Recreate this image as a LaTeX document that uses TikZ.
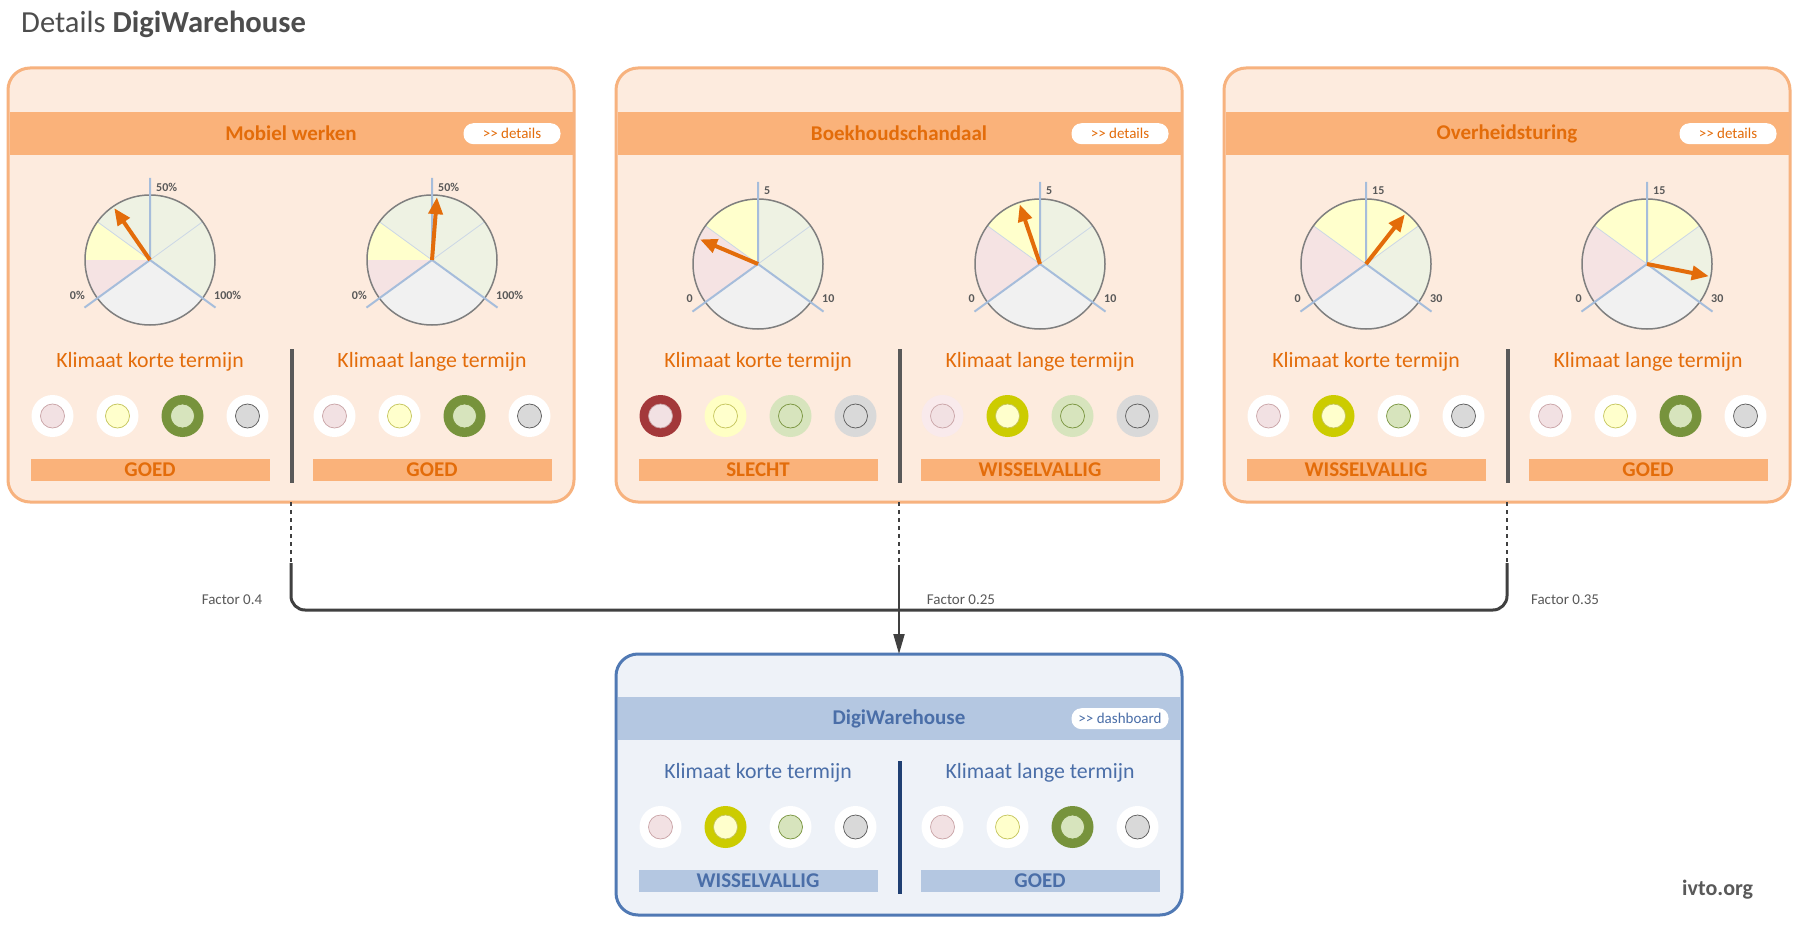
\documentclass[tikz,border=0pt]{standalone}
\usepackage{fontspec}
\setmainfont{Carlito}
\usetikzlibrary{positioning,arrows.meta}

\definecolor{titlegrey}{HTML}{4D4D4D}
\definecolor{darkgrey}{HTML}{404040}
\definecolor{midgrey}{HTML}{595959}
\definecolor{peach}{HTML}{FDEBDE}
\definecolor{peachline}{HTML}{F7B27E}
\definecolor{peachband}{HTML}{FAB27A}
\definecolor{orangetxt}{HTML}{E36C0A}
\definecolor{bluefill}{HTML}{EEF2F8}
\definecolor{blueline}{HTML}{5079B4}
\definecolor{blueband}{HTML}{B4C7E1}
\definecolor{bluetxt}{HTML}{4A6EA8}
\definecolor{bluediv}{HTML}{1F3F73}
% gauge colours
\definecolor{rimgrey}{HTML}{7F7F7F}
\definecolor{axisblue}{HTML}{A6BDDB}
\definecolor{thinblue}{HTML}{CBD7E6}
\definecolor{piepink}{HTML}{F5E3E3}
\definecolor{pieyel}{HTML}{FFFFCC}
\definecolor{piegrn}{HTML}{EEF2E3}
\definecolor{piegry}{HTML}{F1F1F1}
\definecolor{arrowor}{HTML}{E36C0A}
% lamp colours
\definecolor{redD}{HTML}{A3383A}
\definecolor{yelD}{HTML}{CCCC00}
\definecolor{grnD}{HTML}{77933C}
\definecolor{pinkI}{HTML}{F2E1E3}
\definecolor{yelI}{HTML}{FFFFCC}
\definecolor{grnI}{HTML}{D7E4BD}
\definecolor{gryI}{HTML}{D9D9D9}
\definecolor{pinkT}{HTML}{F9EAEC}
\definecolor{yelT}{HTML}{FFFFC4}
\definecolor{pinkL}{HTML}{C9A3A6}
\definecolor{yelL}{HTML}{C4C45A}

\tikzset{
  panel/.style={draw=peachline, fill=peach, line width=3pt, rounded corners=22pt,
    minimum width=566pt, minimum height=434pt, inner sep=0pt, outer sep=0pt},
  band/.style={fill=peachband, minimum width=563pt, minimum height=43pt, inner sep=0pt,
    text=orangetxt, font=\fontsize{21}{24}\selectfont\bfseries},
  pill/.style={fill=white, rounded corners=10pt, minimum width=97pt, minimum height=21pt,
    inner sep=0pt, text=orangetxt, font=\fontsize{15}{17}\selectfont},
  klim/.style={font=\fontsize{21.8}{25}\selectfont},
  verdict/.style={minimum width=239pt, minimum height=22pt, inner sep=0pt,
    font=\fontsize{21}{23}\selectfont\bfseries},
  ring/.style={circle, minimum size=42pt, inner sep=0pt},
  lamp/.style={circle, minimum size=24pt, inner sep=0pt, line width=0.7pt},
  divline/.style={midgrey, line width=3.5pt},
  rim/.style={rimgrey, line width=1.5pt},
  axis/.style={axisblue, line width=2pt},
  needle/.style={arrowor, line width=4pt, -{Triangle[length=17pt,width=14pt]}},
  ticklbl/.style={font=\fontsize{12}{14}\selectfont\bfseries, text=midgrey, inner sep=1pt},
  link/.style={darkgrey, line width=2.5pt, dash pattern=on 4pt off 4pt},
  trunk/.style={darkgrey, line width=3pt, rounded corners=14pt},
  factor/.style={font=\fontsize{15}{18}\selectfont, text=midgrey, inner sep=0pt},
}

\begin{document}
\begin{tikzpicture}[x=1pt, y=1pt]
  \useasboundingbox (0,0) rectangle (1800,-928);
  \fill[white] (0,0) rectangle (1800,-928);

  % Title
  \node[anchor=base west, inner sep=0pt, text=titlegrey, font=\fontsize{30.6}{35}\selectfont]
    (title) at (21,-33) {Details \textbf{DigiWarehouse}};

  % Connectors
  \coordinate (c1) at (291,-563);
  \coordinate (c2) at (899,-565);
  \coordinate (c3) at (1507,-563);
  \coordinate (k3) at (1507,-610);

  % Panels
  \node[panel] (p1) at (291,-285) {};
  \node[panel] (p2) at (899,-285) {};
  \node[panel] (p3) at (1507,-285) {};
  \node[panel, draw=blueline, fill=bluefill, minimum height=261pt] (dw) at (899,-784.5) {};

  \draw[link] (p1.south) -- (c1);
  \draw[link] (p2.south) -- (c2);
  \draw[link] (p3.south) -- (c3);
  \draw[trunk] (c1) |- (k3) -- (c3);
  \draw[darkgrey, line width=2pt, -{Triangle[length=20pt,width=11pt]}] (c2) -- (dw.north);

  \node[factor] (f1) at (232,-600) {Factor 0.4};
  \node[factor] (f2) at (961,-600) {Factor 0.25};
  \node[factor] (f3) at (1565,-600) {Factor 0.35};

  % Headers
  \node[band, below=44pt of p1.north] (b1) {Mobiel werken};
  \node[pill, left=12pt of b1.east] (d1) {>\kern0pt> details};
  \node[band, below=44pt of p2.north] (b2) {Boekhoudschandaal};
  \node[pill, left=12pt of b2.east] (d2) {>\kern0pt> details};
  \node[band, below=44pt of p3.north] (b3) {Overheidsturing};
  \node[pill, left=12pt of b3.east] (d3) {>\kern0pt> details};
  \node[band, fill=blueband, text=bluetxt, below=43pt of dw.north] (b4) {DigiWarehouse};
  \node[pill, text=bluetxt, left=12pt of b4.east] (d4) {>\kern0pt> dashboard};

  % Gauges
  \path (p1.north) ++(-141pt,-192pt) coordinate (g1l) ++(282pt,0pt) coordinate (g1r);
  \path (p2.north) ++(-141pt,-196pt) coordinate (g2l) ++(282pt,0pt) coordinate (g2r);
  \path (p3.north) ++(-141pt,-196pt) coordinate (g3l) ++(281pt,0pt) coordinate (g3r);

  \foreach \c/\lo/\md/\hi/\pa/\pb/\ang in {
      g1l/0\%/50\%/100\%/180/144/124.6, g1r/0\%/50\%/100\%/180/144/85.5,
      g2l/0/5/10/144/90/157, g2r/0/5/10/144/90/108.8,
      g3l/0/15/30/144/36/51.9, g3r/0/15/30/144/36/-11.2}{
    \fill[piepink] (\c) -- ++(216:65pt) arc[start angle=216, end angle=\pa, radius=65pt] -- cycle;
    \fill[pieyel] (\c) -- ++(\pa:65pt) arc[start angle=\pa, end angle=\pb, radius=65pt] -- cycle;
    \fill[piegrn] (\c) -- ++(\pb:65pt) arc[start angle=\pb, end angle=-36, radius=65pt] -- cycle;
    \fill[piegry] (\c) -- ++(216:65pt) arc[start angle=216, end angle=324, radius=65pt] -- cycle;
    \draw[thinblue, line width=0.8pt] (\c) -- ++(144:65pt) (\c) -- ++(36:65pt);
    \draw[rim] (\c) circle[radius=65pt];
    \draw[axis] (\c) -- ++(90:82pt) (\c) -- ++(216:81pt) (\c) -- ++(324:81pt);
    \draw[needle] (\c) -- ++(\ang:63pt);
    \node[ticklbl, anchor=west] (\c-md) at ([shift={(5pt,73pt)}]\c) {\md};
    \node[ticklbl, anchor=east] (\c-lo) at ([shift={(-64pt,-35pt)}]\c) {\lo};
    \node[ticklbl, anchor=west] (\c-hi) at ([shift={(63pt,-35pt)}]\c) {\hi};
  }

  % Climate rows
  \path (p1.north) ++(-141pt,0pt) coordinate (h1l) ++(282pt,0pt) coordinate (h1r);
  \path (p2.north) ++(-141pt,0pt) coordinate (h2l) ++(282pt,0pt) coordinate (h2r);
  \path (p3.north) ++(-141pt,0pt) coordinate (h3l) ++(282pt,0pt) coordinate (h3r);
  \path (dw.north) ++(-141pt,175pt) coordinate (h4l) ++(282pt,0pt) coordinate (h4r);

  \foreach \h/\tc/\bc/\term/\vd/\ra/\rb/\rc/\rd in {
      h1l/orangetxt/peachband/korte/GOED/white/white/grnD/white,
      h1r/orangetxt/peachband/lange/GOED/white/white/grnD/white,
      h2l/orangetxt/peachband/korte/SLECHT/redD/yelT/grnI/gryI,
      h2r/orangetxt/peachband/lange/WISSELVALLIG/pinkT/yelD/grnI/gryI,
      h3l/orangetxt/peachband/korte/WISSELVALLIG/white/yelD/white/white,
      h3r/orangetxt/peachband/lange/GOED/white/white/grnD/white,
      h4l/bluetxt/blueband/korte/WISSELVALLIG/white/yelD/white/white,
      h4r/bluetxt/blueband/lange/GOED/white/white/grnD/white}{
    \node[klim, text=\tc] (\h-k) at ([yshift=-294pt]\h) {Klimaat \term\ termijn};
    \foreach \k/\rg/\dc/\dl in {1/\ra/pinkI/pinkL, 2/\rb/yelI/yelL, 3/\rc/grnI/grnD, 4/\rd/gryI/midgrey}{
      \node[ring, fill=\rg] (\h-o\k) at ([shift={({65*\k-162.5},-348pt)}]\h) {};
      \node[lamp, fill=\dc, draw=\dl] (\h-i\k) at (\h-o\k) {};
    }
    \node[verdict, fill=\bc, text=\tc] (\h-v) at ([yshift=-402pt]\h) {\vd};
  }

  % Dividers
  \foreach \p in {p1, p2, p3}
    \draw[divline] ([shift={(1pt,-281pt)}]\p.north) -- ++(0,-134pt);
  \draw[divline, bluediv] ([shift={(1pt,-107pt)}]dw.north) -- ++(0,-133pt);

  \node[anchor=base west, inner sep=0pt, text=midgrey, font=\fontsize{22}{26}\selectfont\bfseries]
    (site) at (1682,-895) {ivto.org};
\end{tikzpicture}
\end{document}
